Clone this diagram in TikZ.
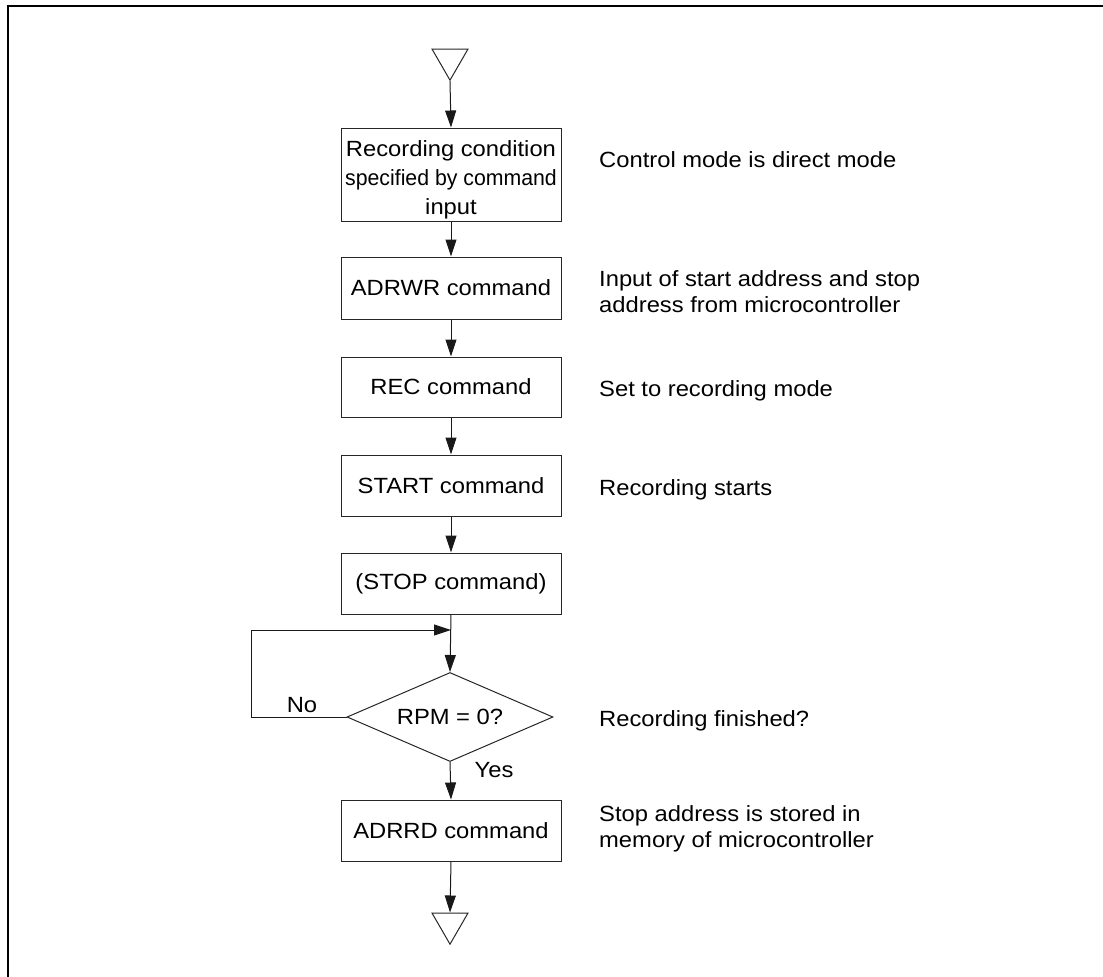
\documentclass[tikz,border=0pt]{standalone}
\usepackage{fontspec}
\setmainfont{Liberation Sans}[FakeStretch=1.08]
\usepackage{graphicx}
\usetikzlibrary{arrows.meta,shapes.geometric,calc}
\begin{document}
\begin{tikzpicture}[x=1pt,y=-1pt,
  every node/.style={font=\fontsize{22pt}{26pt}\selectfont, text=black},
  box/.style={draw=black!85, line width=1pt, minimum width=220pt, inner sep=0pt},
  arr/.style={draw=black!90, line width=1pt, -{Triangle[length=17pt,width=11pt]}},
  line/.style={draw=black!90, line width=1pt},
  term/.style={draw=black!85, line width=1pt, regular polygon, regular polygon sides=3,
    shape border rotate=180, minimum size=41.6pt, inner sep=0pt},
  decision/.style={draw=black!85, line width=1pt, diamond, minimum width=206pt,
    minimum height=89pt, aspect=2.31, inner sep=0pt},
  note/.style={inner sep=0pt, align=left},
  lbl/.style={inner sep=0pt}]
\useasboundingbox (0,0) rectangle (1103,977);
% frame
\draw[line width=1.8pt] (8,977) -- (8,6) -- (1103,6);

% terminals
\node[term] (t1) at (450,59.4) {};
\node[term] (t2) at (450,923.4) {};

% process boxes
\node[box, minimum height=93pt] (b1) at (451,174.5) {};
\node[inner sep=0pt, align=center, font=\fontsize{22pt}{29pt}\selectfont] (b1txt) at ($(b1.center)+(0,5.5)$)
  {Recording condition\\\scalebox{0.895}[1]{specified by command}\\input};
\node[box, minimum height=62pt] (b2) at (451,288) {ADRWR command};
\node[box, minimum height=60pt] (b3) at (451,387) {REC command};
\node[box, minimum height=61pt] (b4) at (451,485.5) {START command};
\node[box, minimum height=61pt] (b5) at (451,583.5) {(STOP command)};
\node[decision] (d) at (450,717) {RPM = 0?};
\node[box, minimum height=61pt] (b6) at (451,830.5) {ADRRD command};

% connectors
\draw[arr] (t1.south) -- (b1.north);
\draw[arr] (b1.south) -- (b2.north);
\draw[arr] (b2.south) -- (b3.north);
\draw[arr] (b3.south) -- (b4.north);
\draw[arr] (b4.south) -- (b5.north);
\draw[arr] (b5.south) -- (d.north);
\coordinate (lp) at (451,630);
\draw[arr] (d.west) -- ++(-95,0) |- (lp);
\draw[arr] (d.south) -- (b6.north);
\draw[arr] (b6.south) -- (t2.north);

% branch labels
\node[lbl] (no) at (302,705) {No};
\node[lbl] (yes) at (494,770) {Yes};

% notes
\node[lbl, anchor=base west] (n1) at (599,167) {Control mode is direct mode};
\node[note, anchor=west] (n2) at (599,292) {Input of start address and stop\\address from microcontroller};
\node[lbl, anchor=base west] (n3) at (599,396) {Set to recording mode};
\node[lbl, anchor=base west] (n4) at (599,495) {Recording starts};
\node[lbl, anchor=base west] (n5) at (599,726) {Recording finished?};
\node[note, anchor=west] (n6) at (599,829) {Stop address is stored in\\memory of microcontroller};
\end{tikzpicture}
\end{document}
